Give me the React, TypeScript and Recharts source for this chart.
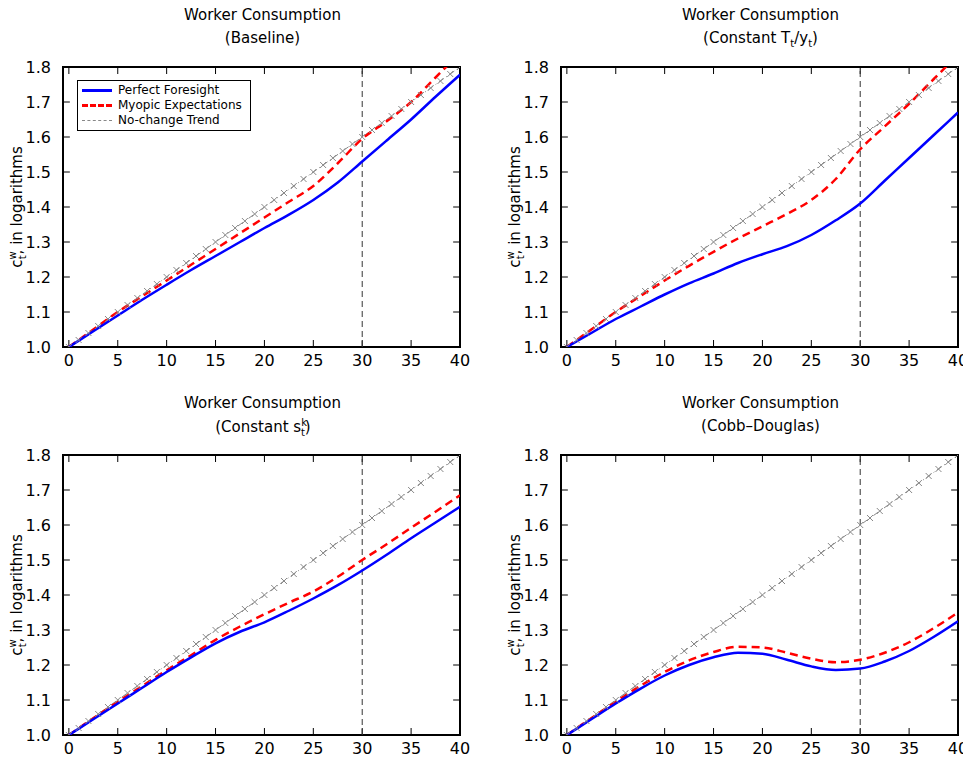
import React from "react";
import { LineChart, Line, XAxis, YAxis, ReferenceLine, ReferenceArea } from "recharts";

const years = Array.from({ length: 41 }, (_, i) => i);
const trendValues = years.map((t) => 1 + 0.02 * t);
const sampleT = [0, 2.5, 5, 7.5, 10, 12.5, 15, 17.5, 20, 22.5, 25, 27.5, 30, 32.5, 35, 37.5, 40];

const baselinePF = [1.0, 1.045, 1.09, 1.135, 1.178, 1.22, 1.26, 1.3, 1.34, 1.378, 1.42, 1.47, 1.53, 1.59, 1.65, 1.715, 1.778];
const baselineMY = [1.0, 1.05, 1.1, 1.145, 1.19, 1.235, 1.28, 1.325, 1.37, 1.415, 1.46, 1.525, 1.595, 1.645, 1.7, 1.77, 1.84];
const tyPF = [1.0, 1.04, 1.08, 1.115, 1.15, 1.182, 1.21, 1.24, 1.265, 1.288, 1.32, 1.362, 1.41, 1.475, 1.54, 1.605, 1.67];
const tyMY = [1.0, 1.05, 1.1, 1.145, 1.19, 1.232, 1.272, 1.31, 1.345, 1.38, 1.42, 1.48, 1.565, 1.63, 1.695, 1.765, 1.835];
const skPF = [1.0, 1.045, 1.09, 1.135, 1.18, 1.222, 1.262, 1.295, 1.322, 1.355, 1.39, 1.428, 1.47, 1.515, 1.562, 1.607, 1.652];
const skMY = [1.0, 1.048, 1.095, 1.14, 1.185, 1.228, 1.272, 1.31, 1.345, 1.378, 1.41, 1.452, 1.5, 1.545, 1.592, 1.638, 1.685];
const cdPF = [1.0, 1.045, 1.09, 1.132, 1.17, 1.2, 1.222, 1.235, 1.232, 1.215, 1.196, 1.186, 1.19, 1.21, 1.24, 1.28, 1.325];
const cdMY = [1.0, 1.048, 1.095, 1.14, 1.18, 1.213, 1.237, 1.252, 1.25, 1.235, 1.218, 1.208, 1.215, 1.235, 1.265, 1.305, 1.35];

const xTicks = [0, 5, 10, 15, 20, 25, 30, 35, 40];
const yTicks = [1.0, 1.1, 1.2, 1.3, 1.4, 1.5, 1.6, 1.7, 1.8];

const FONT = "'DejaVu Sans', sans-serif";
const X0 = -0.6, X1 = 40, Y0 = 1, Y1 = 1.8;
const TX = 0.7, TY = 0.02;

const toPts = (v: number[]) => sampleT.map((t, i) => ({ t, v: v[i] }));
const trendPts = years.map((t, i) => ({ t, v: trendValues[i] }));

const XMark = (props: any) => {
  const { cx, cy } = props;
  if (cx == null) return null;
  return (
    <g stroke="#888" strokeWidth={1}>
      <line x1={cx - 3} y1={cy - 3} x2={cx + 3} y2={cy + 3} />
      <line x1={cx - 3} y1={cy + 3} x2={cx + 3} y2={cy - 3} />
    </g>
  );
};

const YLabel = (props: any) => {
  const vb = props.viewBox;
  const x = vb.x + 14;
  const y = vb.y + vb.height / 2;
  return (
    <text transform={`rotate(-90 ${x} ${y})`} x={x} y={y} textAnchor="middle" fontFamily={FONT} fontSize={15} fill="#000">
      c<tspan dy={-6} fontSize={10}>w</tspan>
      <tspan dx={-8} dy={10} fontSize={10}>t</tspan>
      <tspan dx={1} dy={-4}>, in logarithms</tspan>
    </text>
  );
};

function Panel({ left, top, sub, pf, my, legend }: any) {
  return (
    <div style={{ position: "absolute", left, top, width: 470, height: 380 }}>
      <div style={{ position: "absolute", left: 0, top: 0, width: 470, textAlign: "center", fontFamily: FONT, fontSize: 15, lineHeight: "23px", paddingLeft: 65, paddingRight: 10, boxSizing: "border-box" }}>
        <div>Worker Consumption</div>
        <div style={{ height: 23 }}>{sub}</div>
      </div>
      <LineChart width={470} height={380} margin={{ top: 63, right: 10, bottom: 5, left: 8 }}>
        <XAxis xAxisId="b" dataKey="t" type="number" domain={[X0, X1]} ticks={xTicks} allowDataOverflow
          axisLine={false} tickLine={false} tickMargin={2} tick={{ fill: "#000", fontFamily: FONT, fontSize: 16 }} height={32} />
        <YAxis yAxisId="l" domain={[Y0, Y1]} ticks={yTicks} allowDataOverflow axisLine={false} tickLine={false}
          tickMargin={6} tickFormatter={(v: number) => v.toFixed(1)} width={55}
          tick={{ fill: "#000", fontFamily: FONT, fontSize: 16 }} label={<YLabel />} />
        {xTicks.map((t) => (
          <ReferenceLine key={"xb" + t} xAxisId="b" yAxisId="l" segment={[{ x: t, y: Y0 }, { x: t, y: Y0 + TY }]} stroke="#000" strokeWidth={1} ifOverflow="hidden" />
        ))}
        {xTicks.map((t) => (
          <ReferenceLine key={"xt" + t} xAxisId="b" yAxisId="l" segment={[{ x: t, y: Y1 }, { x: t, y: Y1 - TY }]} stroke="#000" strokeWidth={1} ifOverflow="hidden" />
        ))}
        {yTicks.map((v) => (
          <ReferenceLine key={"yl" + v} xAxisId="b" yAxisId="l" segment={[{ x: X0, y: v }, { x: X0 + TX, y: v }]} stroke="#000" strokeWidth={1} ifOverflow="hidden" />
        ))}
        {yTicks.map((v) => (
          <ReferenceLine key={"yr" + v} xAxisId="b" yAxisId="l" segment={[{ x: X1, y: v }, { x: X1 - TX, y: v }]} stroke="#000" strokeWidth={1} ifOverflow="hidden" />
        ))}
        <ReferenceLine xAxisId="b" yAxisId="l" x={30} stroke="#333" strokeDasharray="6 4" strokeWidth={1} />
        <Line xAxisId="b" yAxisId="l" data={trendPts} dataKey="v" type="linear" stroke="#888" strokeWidth={1}
          strokeDasharray="6 3 1 3" dot={<XMark />} isAnimationActive={false} />
        <Line xAxisId="b" yAxisId="l" data={toPts(my)} dataKey="v" type="monotone" stroke="#ff0000" strokeWidth={2.5}
          strokeDasharray="8 5" dot={false} isAnimationActive={false} />
        <Line xAxisId="b" yAxisId="l" data={toPts(pf)} dataKey="v" type="monotone" stroke="#0000ff" strokeWidth={2.5}
          dot={false} isAnimationActive={false} />
        <ReferenceArea xAxisId="b" yAxisId="l" x1={X0} x2={X1} y1={Y0} y2={Y1} fill="none" fillOpacity={0} stroke="#000" strokeWidth={2} />
      </LineChart>
      {legend && (
        <div style={{ position: "absolute", left: 77, top: 76, border: "1px solid #000", background: "#fff", fontFamily: FONT, fontSize: 12, padding: "2px 8px 2px 4px", lineHeight: "15px" }}>
          {[
            ["Perfect Foresight", "#0000ff", "solid", 3],
            ["Myopic Expectations", "#ff0000", "dashed", 3],
            ["No-change Trend", "#888", "dashed", 1],
          ].map(([l, c, s, w]: any) => (
            <div key={l} style={{ display: "flex", alignItems: "center" }}>
              <span style={{ display: "inline-block", width: 30, borderTop: `${w}px ${s} ${c}`, marginRight: 6 }} />
              {l}
            </div>
          ))}
        </div>
      )}
    </div>
  );
}

const SkTitle = () => (
  <svg width={140} height={24} style={{ display: "inline-block", verticalAlign: "top" }}>
    <text x={70} y={17} textAnchor="middle" fontFamily={FONT} fontSize={15} fill="#000">
      (Constant s<tspan dy={-6} fontSize={10}>k</tspan><tspan dx={-6} dy={10} fontSize={10}>t</tspan><tspan dy={-4}>)</tspan>
    </text>
  </svg>
);

export default function App() {
  return (
    <div style={{ position: "relative", width: 971, height: 762, background: "#fff", margin: -8 }}>
      <Panel left={0} top={4} sub="(Baseline)" pf={baselinePF} my={baselineMY} legend />
      <Panel left={498} top={4} sub={<span>(Constant T<sub style={{ fontSize: 10 }}>t</sub>/y<sub style={{ fontSize: 10 }}>t</sub>)</span>} pf={tyPF} my={tyMY} />
      <Panel left={0} top={392} sub={<SkTitle />} pf={skPF} my={skMY} />
      <Panel left={498} top={392} sub="(Cobb–Douglas)" pf={cdPF} my={cdMY} />
    </div>
  );
}
